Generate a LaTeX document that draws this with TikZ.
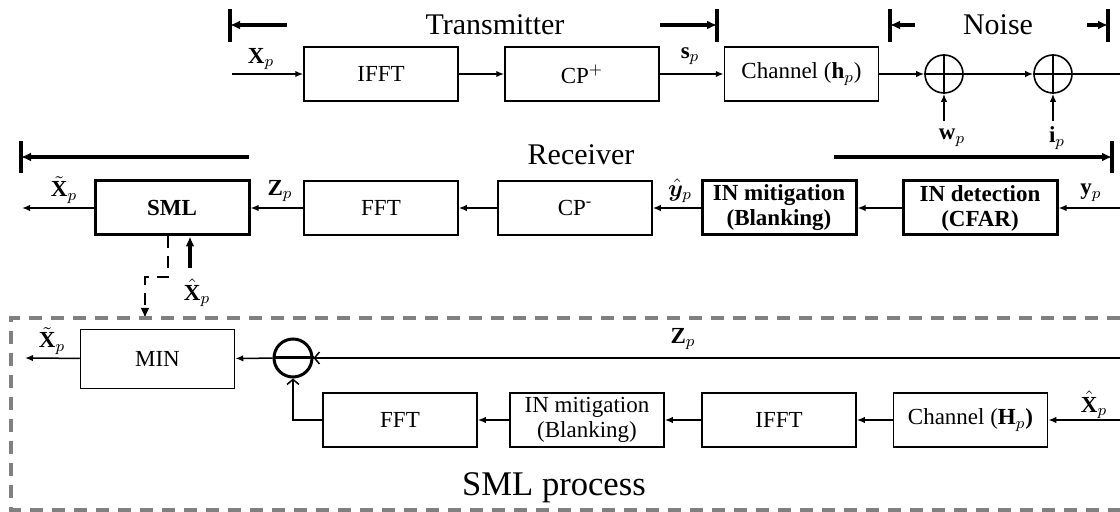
\documentclass[tikz,border=0pt]{standalone}
\usepackage{fontspec}
\setmainfont{Liberation Serif}
\usepackage{bm}
\usetikzlibrary{arrows.meta}
\begin{document}
\begin{tikzpicture}[x=0.5pt,y=-0.5pt,
  blk/.style={draw, line width=0.75pt, minimum width=77pt, minimum height=27pt, inner sep=0pt, font=\fontsize{11.5}{12.5}\selectfont, align=center},
  thk/.style={blk, line width=1.5pt, font=\fontsize{11.5}{12.5}\selectfont\bfseries},
  conn/.style={line width=0.75pt, -{Latex[length=4pt,width=3.2pt]}},
  opn/.style={line width=0.75pt, -{Straight Barb[length=2.5pt,width=6pt]}},
  brk/.style={line width=1.6pt, -{Latex[length=5pt,width=4.5pt]}},
  barl/.style={line width=1.6pt},
  sig/.style={inner sep=1pt, font=\fontsize{11.5}{12.5}\selectfont},
  ttl/.style={inner sep=0pt, font=\fontsize{15}{16}\selectfont},
  sumc/.style={circle, draw, line width=0.8pt, minimum size=19pt, inner sep=0pt},
  dsh/.style={line width=1.1pt, dash pattern=on 6pt off 4pt},
  grayd/.style={draw=black!50, line width=1.7pt, dash pattern=on 6.5pt off 4.5pt},
]
\useasboundingbox (0,0) rectangle (1120,512);

% ---------- transmitter row ----------
\node[blk] (IFFT) at (381,74) {IFFT};
\node[blk] (CPp) at (582,74) {CP$^{+}$};
\node[blk] (Ch) at (801.5,74) {Channel (\textbf{h}$_p$)};
\node[sumc] (add1) at (944,74) {};
\node[sumc] (add2) at (1053,74) {};
\draw[line width=1.3pt] (add1.north) -- (add1.south) (add1.west) -- (add1.east);
\draw[line width=1.3pt] (add2.north) -- (add2.south) (add2.west) -- (add2.east);

\coordinate (xin) at (232,74);
\coordinate (out1) at (1120,74);
\coordinate (win) at (944,121);
\coordinate (iin) at (1053,121);
\draw[conn] (xin) -- (IFFT);
\draw[conn] (IFFT) -- (CPp);
\draw[conn] (CPp) -- (Ch);
\draw[conn] (Ch) -- (add1);
\draw[conn] (add1) -- (add2);
\draw[line width=0.75pt] (add2) -- (out1);
\draw[conn] (win) -- (add1);
\draw[conn] (iin) -- (add2);

\node[sig] (lxp) at (261,59) {$\mathbf{X}_p$};
\node[sig] (lsp) at (690,56) {$\mathbf{s}_p$};
\node[sig] (lwp) at (952,138) {$\mathbf{w}_p$};
\node[sig] (lip) at (1057,138) {$\mathbf{i}_p$};

% brackets
\node[ttl] (tTx) at (495,25) {Transmitter};
\node[ttl] (tNo) at (998,25) {Noise};
\node[ttl] (tRx) at (581,155) {Receiver};
\coordinate (tL) at (230,25); \coordinate (tLa) at (287,25);
\coordinate (tR) at (717,25); \coordinate (tRa) at (660,25);
\draw[brk] (tLa) -- (tL);  \draw[barl] (230,9) -- (230,42);
\draw[brk] (tRa) -- (tR);  \draw[barl] (717,9) -- (717,42);
\coordinate (nL) at (890,25); \coordinate (nLa) at (915,25);
\coordinate (nR) at (1108,25); \coordinate (nRa) at (1087,25);
\draw[brk] (nLa) -- (nL);  \draw[barl] (890,9) -- (890,42);
\draw[brk] (nRa) -- (nR);  \draw[barl] (1108,9) -- (1108,42);
\coordinate (rL) at (21,157); \coordinate (rLa) at (249,157);
\coordinate (rR) at (1112,157); \coordinate (rRa) at (834,157);
\draw[brk] (rLa) -- (rL);  \draw[barl] (21,141) -- (21,173);
\draw[brk] (rRa) -- (rR);  \draw[barl] (1112,141) -- (1112,173);

% ---------- receiver row ----------
\node[thk] (SML) at (172,208) {SML};
\node[blk] (FFT2) at (381,208) {FFT};
\node[blk] (CPm) at (575,208) {CP\textsuperscript{-}};
\node[thk] (INm) at (779,208) {IN mitigation\\(Blanking)};
\node[thk] (INd) at (980,208) {IN detection\\(CFAR)};

\coordinate (yin) at (1120,208);
\coordinate (xout) at (22,208);
\draw[conn] (yin) -- (INd);
\draw[conn] (INd) -- (INm);
\draw[conn] (INm) -- (CPm);
\draw[conn] (CPm) -- (FFT2);
\draw[conn] (FFT2) -- (SML);
\draw[conn] (SML) -- (xout);

\node[sig] (lyp) at (1091,193) {$\mathbf{y}_p$};
\node[sig] (lyh) at (680,191) {$\hat{\bm{y}}_p$};
\node[sig] (lzp) at (280,191) {$\mathbf{Z}_p$};
\node[sig] (lxt) at (64,190) {$\tilde{\mathbf{X}}_p$};

% SML links
\coordinate (dA) at (168,277);
\coordinate (dB) at (145,277);
\coordinate (dE) at (145,318);
\draw[dsh, -{Latex[length=5pt,width=4.5pt]}] (SML.south -| dA) -- (dA) -- (dB) -- (dE);
\coordinate (xh) at (190,268);
\draw[brk] (xh) -- (SML.south -| xh);
\node[sig] (lxh) at (197,293) {$\hat{\mathbf{X}}_p$};

% ---------- SML process ----------
\draw[grayd] (1120,318) -- (11,318) -- (11,510) -- (1120,510);
\node[ttl, font=\fontsize{17.3}{18}\selectfont] (tSML) at (554,488) {SML process};

\node[blk, minimum height=29.5pt] (MIN) at (157.5,359) {MIN};
\node[circle, draw, line width=1.5pt, minimum size=19pt, inner sep=0pt] (sub) at (293,358) {};
\draw[line width=1.5pt] (sub.west) -- (sub.east);

\node[blk] (FFT3) at (400,420) {FFT};
\node[blk] (INm2) at (587,420) {IN mitigation\\(Blanking)};
\node[blk] (IFFT3) at (779,420) {IFFT};
\node[blk] (ChH) at (970.5,420) {Channel (\textbf{H}$_p$\textbf{)}};

\coordinate (zin) at (1120,358);
\coordinate (xout2) at (25,358);
\coordinate (chin) at (1120,420);
\draw[opn] (zin) -- (sub);
\draw[conn] (sub) -- (MIN);
\draw[conn] (MIN) -- (xout2);
\draw[opn] (FFT3) -| (sub);
\draw[conn] (chin) -- (ChH);
\draw[conn] (ChH) -- (IFFT3);
\draw[conn] (IFFT3) -- (INm2);
\draw[conn] (INm2) -- (FFT3);

\node[sig] (lxt2) at (52,341) {$\tilde{\mathbf{X}}_p$};
\node[sig] (lzp2) at (683,339) {$\mathbf{Z}_p$};
\node[sig] (lxh2) at (1094,405) {$\hat{\mathbf{X}}_p$};
\end{tikzpicture}
\end{document}
